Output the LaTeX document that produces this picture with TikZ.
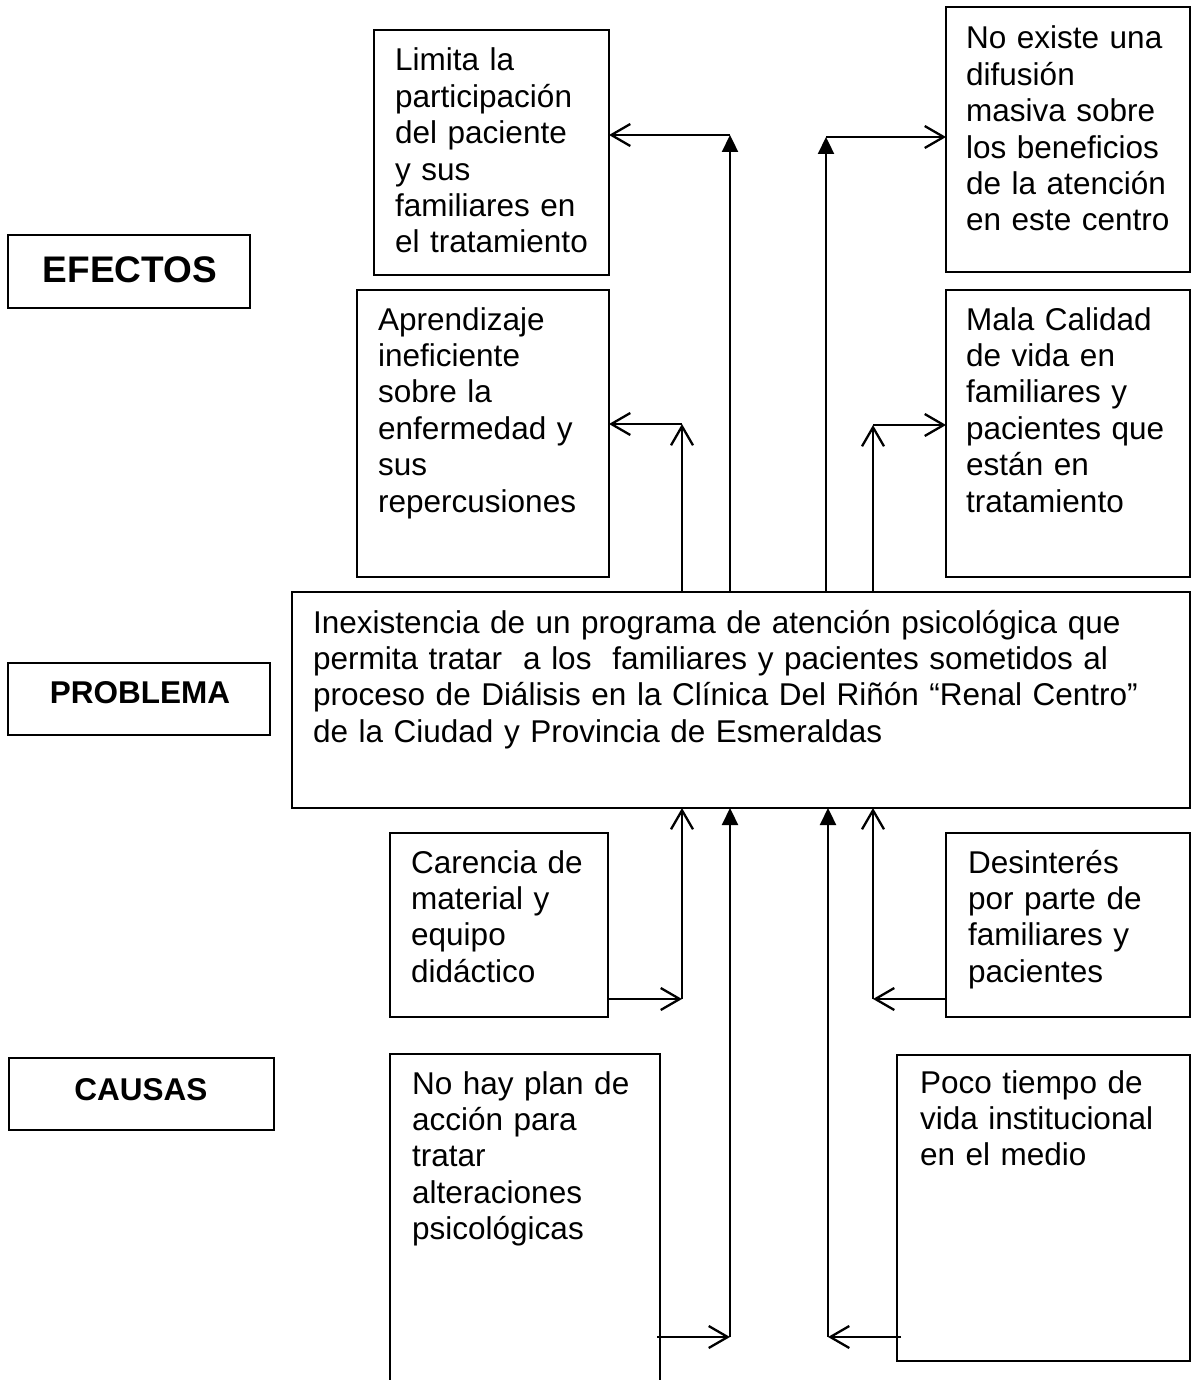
\documentclass[tikz,border=0pt]{standalone}
\usepackage{fontspec}
\setmainfont{Liberation Sans}
\usetikzlibrary{arrows.meta}
\newcommand{\boxat}[5]{\node[box, minimum width=#4pt, minimum height=#5pt] (#1) at (#2,#3) {};}
\begin{document}
\begin{tikzpicture}[x=1pt,y=-1pt,
  box/.style={draw, line width=1.5pt, inner sep=0pt, outer sep=0pt, anchor=north west},
  txt/.style={anchor=base west, align=left, inner sep=0pt, text width=#1,
              font=\fontsize{31.5}{36.4}\selectfont},
  txt/.default=320pt,
  lbl/.style={anchor=base, inner sep=0pt, font=\bfseries\fontsize{31.5}{36}\selectfont},
  openarr/.style={line width=2.3pt, -{Straight Barb[length=19pt, width=22pt]}},
  filledarr/.style={line width=2.3pt, -{Triangle[length=17pt, width=16pt]}}
]
\useasboundingbox (0,0) rectangle (1198,1380);
\clip (0,0) rectangle (1198,1380);

% row labels
\boxat{efectosbox}{8}{235}{242}{73}
\node[lbl, font=\bfseries\fontsize{37}{40}\selectfont] (efectos) at (130,282) {EFECTOS};
\boxat{problemabox}{8}{663}{262}{72}
\node[lbl] (problema) at (140,703) {PROBLEMA};
\boxat{causasbox}{9}{1058}{265}{72}
\node[lbl] (causas) at (141,1100) {CAUSAS};

% effect boxes
\boxat{limita}{374}{30}{235}{245}
\node[txt] (limitatxt) at (395,71) {Limita la\\participación\\del paciente\\y sus\\familiares en\\el tratamiento};
\boxat{noexiste}{946}{7}{244}{265}
\node[txt] (noexistetxt) at (966,49) {No existe una\\difusión\\masiva sobre\\los beneficios\\de la atención\\en este centro};
\boxat{aprend}{357}{290}{252}{287}
\node[txt] (aprendtxt) at (378,330) {Aprendizaje\\ineficiente\\sobre la\\enfermedad y\\sus\\repercusiones};
\boxat{mala}{946}{290}{244}{287}
\node[txt] (malatxt) at (966,330) {Mala Calidad\\de vida en\\familiares y\\pacientes que\\están en\\tratamiento};

% problem
\boxat{problem}{292}{592}{898}{216}
\node[txt=880pt] (problemtxt) at (313,633) {Inexistencia de un programa de atención psicológica que\\permita tratar\ \ a los\ \ familiares y pacientes sometidos al\\proceso de Diálisis en la Clínica Del Riñón “Renal Centro”\\de la Ciudad y Provincia de Esmeraldas};

% cause boxes
\boxat{carencia}{390}{833}{218}{184}
\node[txt] (carenciatxt) at (411,873) {Carencia de\\material y\\equipo\\didáctico};
\boxat{desint}{946}{833}{244}{184}
\node[txt] (desinttxt) at (968,873) {Desinterés\\por parte de\\familiares y\\pacientes};
\boxat{nohay}{390}{1054}{270}{400}
\node[txt] (nohaytxt) at (412,1094) {No hay plan de\\acción para\\tratar\\alteraciones\\psicológicas};
\boxat{poco}{897}{1055}{293}{306}
\node[txt] (pocotxt) at (920,1093) {Poco tiempo de\\vida institucional\\en el medio};

% connectors: effects
\coordinate (tl) at (730,135);
\coordinate (tr) at (826,137);
\coordinate (ml) at (682,424);
\coordinate (mr) at (873,425);
\draw[filledarr] (problem.north -| tl) -- (tl);
\draw[openarr] (tl) -- (tl -| limita.east);
\draw[filledarr] (problem.north -| tr) -- (tr);
\draw[openarr] (tr) -- (tr -| noexiste.west);
\draw[openarr] (problem.north -| ml) -- (ml);
\draw[openarr] (ml) -- (ml -| aprend.east);
\draw[openarr] (problem.north -| mr) -- (mr);
\draw[openarr] (mr) -- (mr -| mala.west);

% connectors: causes
\coordinate (bl) at (682,999);
\coordinate (br) at (873,999);
\draw[openarr] (carencia.east |- bl) -- (bl);
\draw[openarr] (bl) -- (bl |- problem.south);
\draw[openarr] (desint.west |- br) -- (br);
\draw[openarr] (br) -- (br |- problem.south);
\coordinate (bbl0) at (657,1337);
\coordinate (bbl) at (730,1337);
\coordinate (bbr0) at (901,1337);
\coordinate (bbr) at (828,1337);
\draw[openarr] (bbl0) -- (bbl);
\draw[filledarr] (bbl) -- (bbl |- problem.south);
\draw[openarr] (bbr0) -- (bbr);
\draw[filledarr] (bbr) -- (bbr |- problem.south);
\end{tikzpicture}
\end{document}
